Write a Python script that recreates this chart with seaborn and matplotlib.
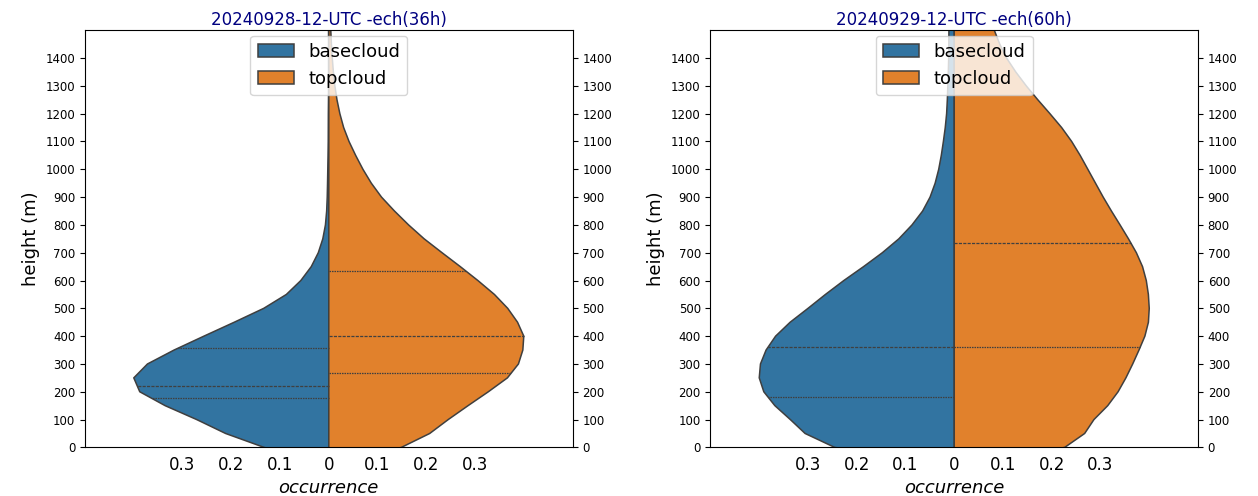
import numpy as np
import pandas as pd
import matplotlib.pyplot as plt
import seaborn as sns

# height levels (m) and occurrence, one value per level
levels = [0, 50, 100, 150, 200, 250, 300, 350, 400, 450, 500, 550, 600, 650, 700, 750, 800,
          850, 900, 950, 1000, 1050, 1100, 1150, 1200, 1250, 1300, 1350, 1400, 1450, 1500, 1550, 1600,
          1650, 1700, 1750, 1800]

base_36h = [0.147, 0.21, 0.26, 0.33, 0.39, 0.40, 0.37, 0.31, 0.25, 0.19, 0.126, 0.08, 0.055, 0.033, 0.02, 0.011, 0.006,
            0.004, 0.003, 0.0025, 0.002, 0.0015, 0.001, 0.001, 0.001, 0.0005, 0.0005, 0.0005, 0.0005, 0.0005, 0.0005,
            0.0005, 0.0005, 0.0005, 0.0005, 0.0005, 0.0005]
top_36h = [0.18, 0.20, 0.24, 0.28, 0.32, 0.365, 0.385, 0.39, 0.398, 0.38, 0.362, 0.335, 0.30, 0.265, 0.228, 0.19, 0.16,
           0.132, 0.104, 0.085, 0.068, 0.054, 0.04, 0.029, 0.022, 0.016, 0.012, 0.009, 0.007, 0.005, 0.004, 0.003, 0.003,
           0.002, 0.002, 0.001, 0.001]
base_60h = [0.315, 0.29, 0.335, 0.365, 0.39, 0.398, 0.395, 0.383, 0.365, 0.335, 0.295, 0.262, 0.225, 0.183, 0.145, 0.11, 0.085,
            0.062, 0.048, 0.038, 0.031, 0.026, 0.022, 0.018, 0.015, 0.014, 0.013, 0.012, 0.011, 0.011, 0.011, 0.01, 0.01,
            0.01, 0.009, 0.008, 0.008]
top_60h = [0.30, 0.25, 0.285, 0.315, 0.335, 0.35, 0.364, 0.376, 0.39, 0.397, 0.398, 0.396, 0.392, 0.385, 0.372, 0.355, 0.338,
           0.32, 0.303, 0.288, 0.272, 0.257, 0.24, 0.22, 0.195, 0.17, 0.146, 0.125, 0.105, 0.092, 0.082, 0.07, 0.06,
           0.05, 0.042, 0.035, 0.03]

# quartile lines (m): [Q1, median, Q3]; None where not shown
quart_base_36h = [176, 221, 356]
quart_top_36h = [266, 402, 635]
quart_base_60h = [182, 360, None]
quart_top_60h = [360, 735, None]

titles = ['20240928-12-UTC -ech(36h)', '20240929-12-UTC -ech(60h)']

BW = 35     # kde bandwidth in metres, same for every half
STEP = 50   # kde grid step, puts a grid point right on 0 m


def make_df(base, top):
    w = lambda v: np.round(np.array(v) * 2000).astype(int)
    hb = np.repeat(levels, w(base))
    ht = np.repeat(levels, w(top))
    return pd.DataFrame({'height': np.concatenate([hb, ht]),
                         'cloud': ['basecloud'] * len(hb) + ['topcloud'] * len(ht)})


def edge_at(ax, side, h):
    for coll in ax.collections:
        v = coll.get_paths()[0].vertices
        v = v[np.abs(v[:, 0]) > 1e-9]
        if len(v) and np.sign(v[:, 0].mean()) == side:
            order = np.argsort(v[:, 1])
            return np.interp(h, v[order, 1], v[order, 0])
    return 0


fig, axes = plt.subplots(1, 2, figsize=(12.58, 4.96))
plt.subplots_adjust(left=0.0676, right=0.9523, bottom=0.098, top=0.939, wspace=0.283)

panels = [(base_36h, top_36h, quart_base_36h, quart_top_36h),
          (base_60h, top_60h, quart_base_60h, quart_top_60h)]

n_grid = int((levels[-1] - levels[0]) / STEP) + 3

for ax, (base, top, qb, qt), title in zip(axes, panels, titles):
    df = make_df(base, top)
    sns.violinplot(data=df, y='height', hue='cloud', split=True, inner=None,
                   density_norm='width', bw_method=lambda k: BW / np.std(k.dataset, ddof=1),
                   gridsize=n_grid, cut=STEP / BW, linewidth=1.1, ax=ax)
    edge = '0.25'
    for side, q in [(-1, qb), (1, qt)]:
        for i, val in enumerate(q):
            if val is None:
                continue
            dash = (2.5, 1) if i == 1 else (1.25, 0.75)
            ax.plot([0, edge_at(ax, side, val)], [val, val], color=edge, lw=0.9, dashes=dash)
    ax.set_ylim(0, 1500)
    ax.set_xlim(-0.5, 0.5)
    ax.set_yticks(range(0, 1500, 100))
    ax.set_xticks([-0.3, -0.2, -0.1, 0, 0.1, 0.2, 0.3])
    ax.set_xticklabels(['0.3', '0.2', '0.1', '0', '0.1', '0.2', '0.3'], fontsize=12)
    ax.tick_params(axis='x', length=0, pad=6)
    ax.tick_params(axis='y', labelsize=8.5, right=True, labelright=True)
    ax.set_xlabel('occurrence', fontsize=13, style='italic')
    ax.set_ylabel('height (m)', fontsize=13)
    ax.set_title(title, fontsize=12, color='navy', pad=4)
    sns.move_legend(ax, 'upper center', title=None, fontsize=13, borderaxespad=0.3)

plt.savefig('out.png', dpi=100)
